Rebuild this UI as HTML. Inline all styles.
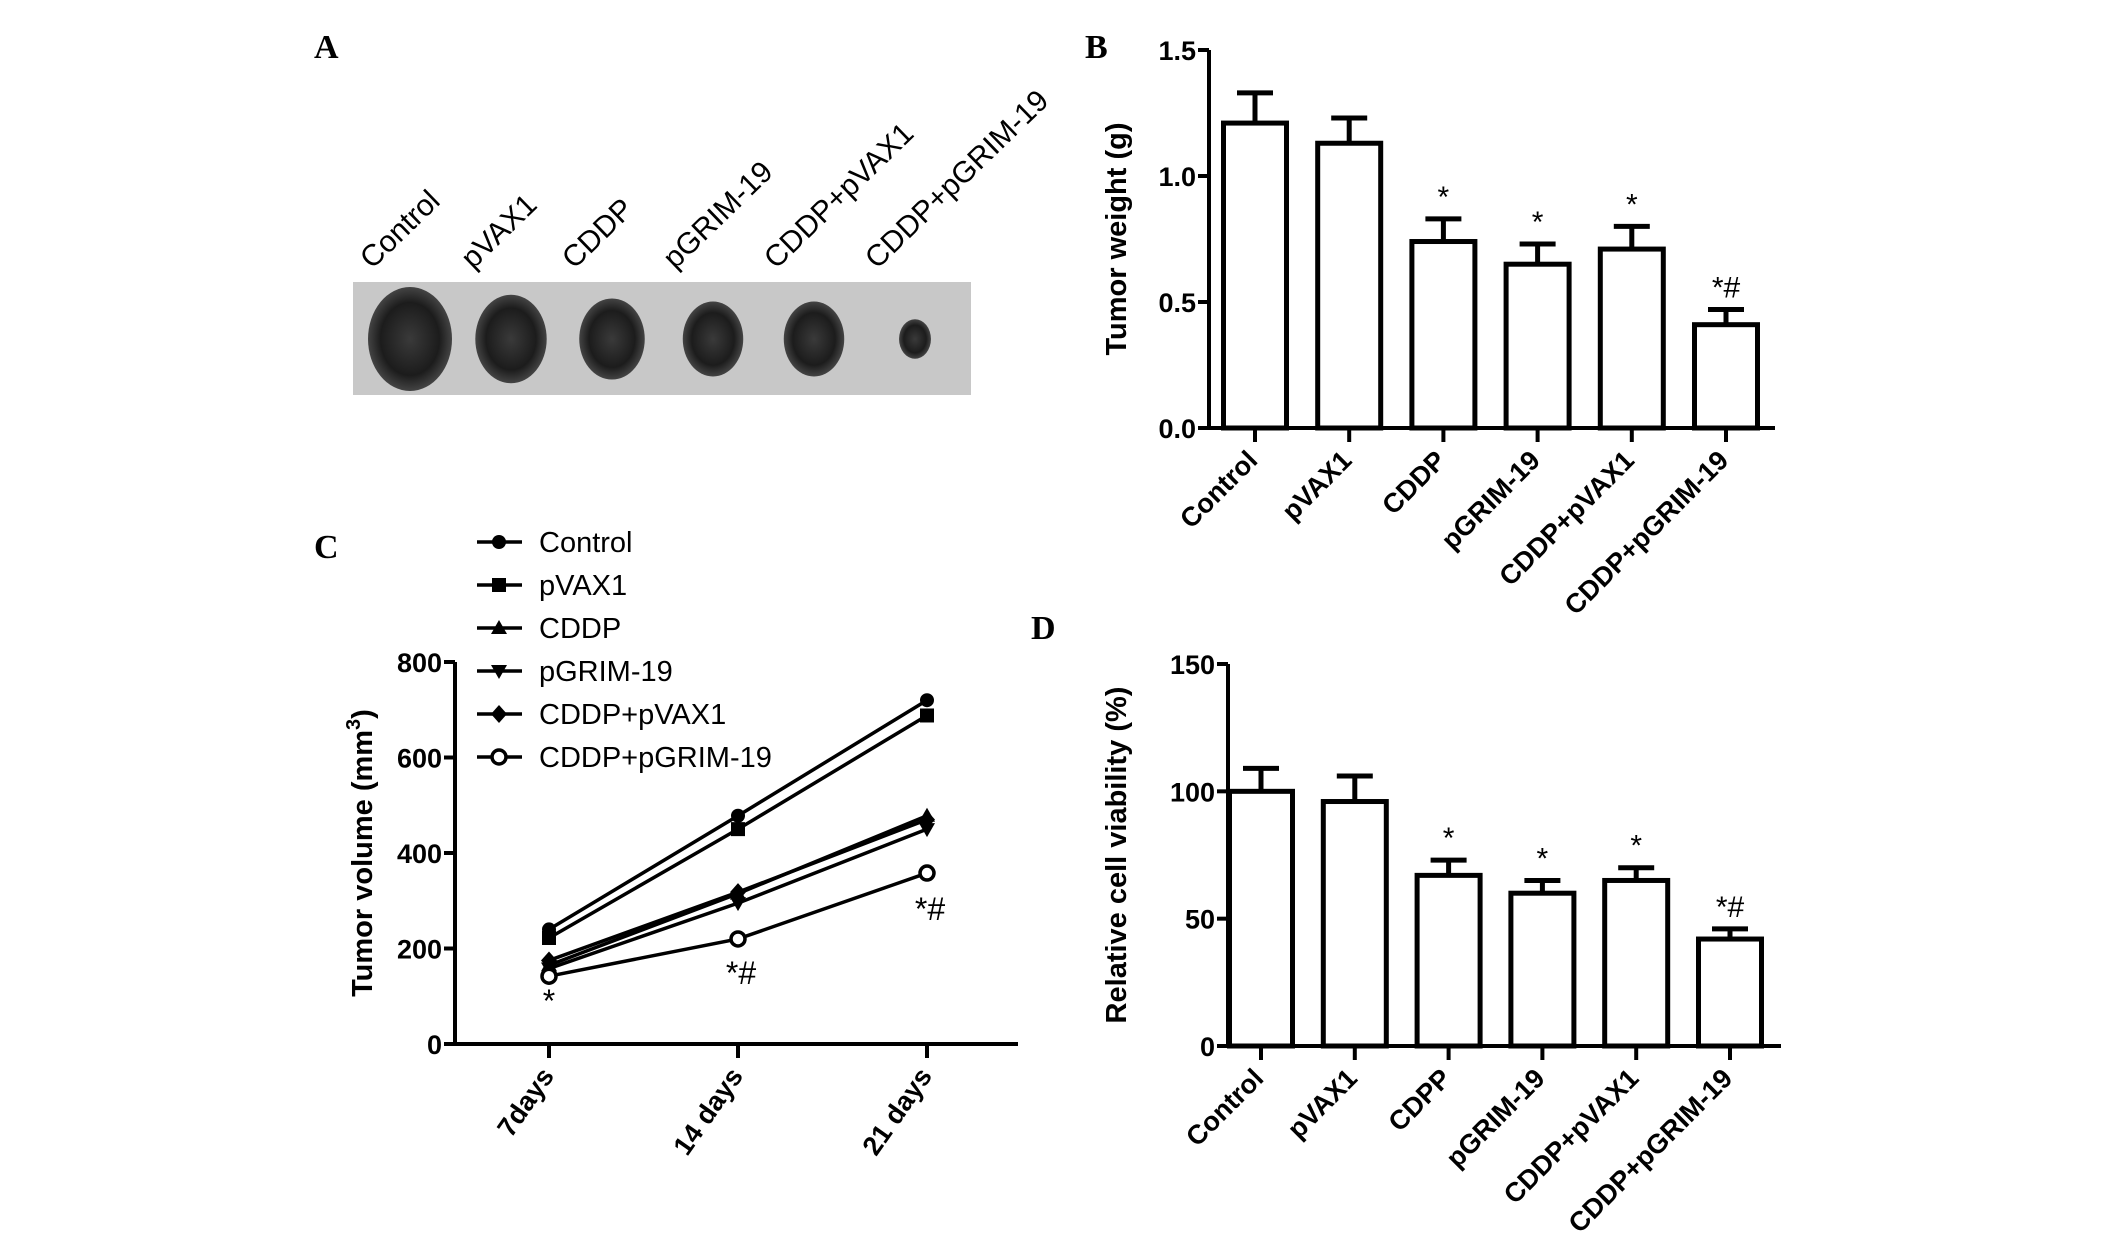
<!DOCTYPE html>
<html><head><meta charset="utf-8"><style>
html,body{margin:0;padding:0;background:#fff;}
svg{display:block;}
text{font-family:"Liberation Sans",Arial,sans-serif;fill:#000;}
.pl{font-family:"Liberation Serif",serif;font-weight:bold;font-size:34px;}
.tk{font-weight:bold;font-size:27px;}
.ttl{font-weight:bold;font-size:29px;}
</style></head><body>
<svg id="fig" width="2126" height="1251" viewBox="0 0 2126 1251" xmlns="http://www.w3.org/2000/svg">
<defs>
<radialGradient id="tum" cx="50%" cy="50%" r="50%"><stop offset="0" stop-color="#3a3a3a"/><stop offset="0.7" stop-color="#1c1c1c"/><stop offset="1" stop-color="#444"/></radialGradient>
</defs>
<text class="pl" x="314" y="58">A</text>
<text class="pl" x="1085" y="58">B</text>
<text class="pl" x="314" y="558">C</text>
<text class="pl" x="1031" y="639">D</text>
<g id="pa"></g>
<g id="pb"></g>
<g id="pc"></g>
<g id="pd"></g>
</svg>
<script>
const groups = ["Control","pVAX1","CDDP","pGRIM-19","CDDP+pVAX1","CDDP+pGRIM-19"];
const groupsD = ["Control","pVAX1","CDPP","pGRIM-19","CDDP+pVAX1","CDDP+pGRIM-19"];
const weightMean = [1.21,1.13,0.74,0.65,0.71,0.41];
const weightErr = [1.33,1.23,0.83,0.73,0.80,0.47];
const weightSig = ["","","*","*","*","*#"];
const weightTicks = [0,0.5,1.0,1.5];
const viabMean = [100,96,67,60,65,42];
const viabErr = [109,106,73,65,70,46];
const viabSig = ["","","*","*","*","*#"];
const viabTicks = [0,50,100,150];
const days = ["7days","14 days","21 days"];
const volTicks = [0,200,400,600,800];
const volControl = [240,478,720];
const volPVAX1 = [222,450,688];
const volCDDP = [165,315,478];
const volPGRIM = [158,295,450];
const volCDDPpVAX1 = [175,318,470];
const volCDDPpGRIM = [142,220,358];
const volSig = ["*","*#","*#"];
const tumorSize = [1.0,0.85,0.78,0.72,0.72,0.38];

const NS="http://www.w3.org/2000/svg";
function mk(parent,tag,attrs,txt){const e=document.createElementNS(NS,tag);for(const k in attrs)e.setAttribute(k,attrs[k]);if(txt!==undefined)e.textContent=txt;parent.appendChild(e);return e;}

// Panel A
(function(){
 const g=document.getElementById('pa');
 const r=mk(g,'rect',{x:353,y:282,width:618,height:113,fill:'#c8c8c8'});
 
 
 const cx0=410, dx=101;
 groups.forEach((n,i)=>{
  const cx=cx0+i*dx, s=tumorSize[i];
  const e=mk(g,'ellipse',{cx:cx,cy:339,rx:42*s,ry:52*s,fill:'url(#tum)'});
  
  
  const t=mk(g,'text',{x:cx-38,y:270,'font-size':30,transform:`rotate(-44 ${cx-38} 270)`},n);
  
  
 });
})();

function barChart(gid,cats,mean,err,sig,ticks,ymax,ax,y0,ytop,xend,c0,sp,title,titleX,fmt){
 const g=document.getElementById(gid);
 const ys=v=>y0-(v/ymax)*(y0-ytop);
 const xs=i=>c0+i*sp;
 const a=mk(g,'path',{d:`M${ax} ${ytop} V${y0} H${xend}`,stroke:'#000','stroke-width':4,fill:'none'});
 
 
 ticks.forEach(t=>{
  mk(g,'line',{x1:ax-11,x2:ax,y1:ys(t),y2:ys(t),stroke:'#000','stroke-width':4});
  const tl=mk(g,'text',{class:'tk',x:ax-13,y:ys(t)+10,'text-anchor':'end'},fmt(t));
  
  
 });
 cats.forEach((c,i)=>{
  const x=xs(i),w=63;
  mk(g,'line',{x1:x,x2:x,y1:ys(mean[i]),y2:ys(err[i]),stroke:'#000','stroke-width':5});
  mk(g,'line',{x1:x-18,x2:x+18,y1:ys(err[i]),y2:ys(err[i]),stroke:'#000','stroke-width':5});
  const b=mk(g,'rect',{x:x-w/2,y:ys(mean[i]),width:w,height:y0-ys(mean[i]),fill:'#fff',stroke:'#000','stroke-width':5});
  
  
  mk(g,'line',{x1:x,x2:x,y1:y0,y2:y0+14,stroke:'#000','stroke-width':4});
  const tl=mk(g,'text',{class:'tk',x:x+4,y:y0+34,'text-anchor':'end',transform:`rotate(-45 ${x+4} ${y0+34})`},c);
  
  
  if(sig[i]){
   const s=mk(g,'text',{x:x,y:ys(err[i])-12,'text-anchor':'middle','font-size':30},sig[i]);
   
   
  }
 });
 const yc=(y0+ytop)/2;
 const tt=mk(g,'text',{class:'ttl',x:titleX,y:yc,'text-anchor':'middle',transform:`rotate(-90 ${titleX} ${yc})`},title);
 
 
}
barChart('pb',groups,weightMean,weightErr,weightSig,weightTicks,1.5,1209,428,50,1775,1255,94.2,'Tumor weight (g)',1126,t=>t.toFixed(1));
barChart('pd',groupsD,viabMean,viabErr,viabSig,viabTicks,150,1228,1046,664,1781,1261,93.8,'Relative cell viability (%)',1126,t=>String(t));

// Panel C
(function(){
 const g=document.getElementById('pc');
 const ax=455,y0=1044,ytop=662,xend=1018;
 const ys=v=>y0-(v/800)*(y0-ytop);
 const xs=i=>549+i*189;
 const a=mk(g,'path',{d:`M${ax} ${ytop} V${y0} H${xend}`,stroke:'#000','stroke-width':4,fill:'none'});
 
 
 volTicks.forEach(t=>{
  mk(g,'line',{x1:ax-11,x2:ax,y1:ys(t),y2:ys(t),stroke:'#000','stroke-width':4});
  const tl=mk(g,'text',{class:'tk',x:ax-13,y:ys(t)+10,'text-anchor':'end'},String(t));
  
  
 });
 days.forEach((d,i)=>{
  const x=xs(i);
  mk(g,'line',{x1:x,x2:x,y1:y0,y2:y0+14,stroke:'#000','stroke-width':4});
  const tl=mk(g,'text',{class:'tk',x:x+6,y:y0+32,'text-anchor':'end',transform:`rotate(-55 ${x+6} ${y0+32})`},d);
  
  
 });
 const series=[["Control",volControl,"circle"],["pVAX1",volPVAX1,"square"],["CDDP",volCDDP,"tri"],["pGRIM-19",volPGRIM,"tridown"],["CDDP+pVAX1",volCDDPpVAX1,"diamond"],["CDDP+pGRIM-19",volCDDPpGRIM,"open"]];
 function marker(p,shape,x,y){
  if(shape==='circle')return mk(p,'circle',{cx:x,cy:y,r:7,fill:'#000'});
  if(shape==='square')return mk(p,'rect',{x:x-7,y:y-7,width:14,height:14,fill:'#000'});
  if(shape==='tri')return mk(p,'path',{d:`M${x} ${y-8} L${x+8} ${y+6} L${x-8} ${y+6}Z`,fill:'#000'});
  if(shape==='tridown')return mk(p,'path',{d:`M${x} ${y+8} L${x+8} ${y-6} L${x-8} ${y-6}Z`,fill:'#000'});
  if(shape==='diamond')return mk(p,'path',{d:`M${x} ${y-9} L${x+8} ${y} L${x} ${y+9} L${x-8} ${y}Z`,fill:'#000'});
  return mk(p,'circle',{cx:x,cy:y,r:7,fill:'#fff',stroke:'#000','stroke-width':3.5});
 }
 series.forEach(([n,vals,shape],k)=>{
  const sg=mk(g,'g',{});
  
  
  mk(sg,'polyline',{points:vals.map((v,i)=>xs(i)+','+ys(v)).join(' '),fill:'none',stroke:'#000','stroke-width':3.5});
  vals.forEach((v,i)=>marker(sg,shape,xs(i),ys(v)));
  const ly=542+k*43;
  const lg=mk(g,'g',{});
  
  
  mk(lg,'line',{x1:477,x2:522,y1:ly,y2:ly,stroke:'#000','stroke-width':3.5});
  marker(lg,shape,499,ly);
  mk(lg,'text',{x:539,y:ly+10,'font-size':29},n);
 });
 const sigY=[1000,972,908];
 volSig.forEach((s,i)=>{
  const t=mk(g,'text',{x:xs(i)+(i?3:0),y:sigY[i]+12,'text-anchor':'middle','font-size':32},s);
  
  
 });
 const yc=(y0+ytop)/2, tx=372;
 const tt=mk(g,'text',{class:'ttl',x:tx,y:yc,'text-anchor':'middle',transform:`rotate(-90 ${tx} ${yc})`});
 
 
 tt.appendChild(document.createTextNode('Tumor volume (mm'));
 mk(tt,'tspan',{'font-size':20,dy:-12},'3');
 mk(tt,'tspan',{dy:12},')');
})();
</script>
</body></html>
